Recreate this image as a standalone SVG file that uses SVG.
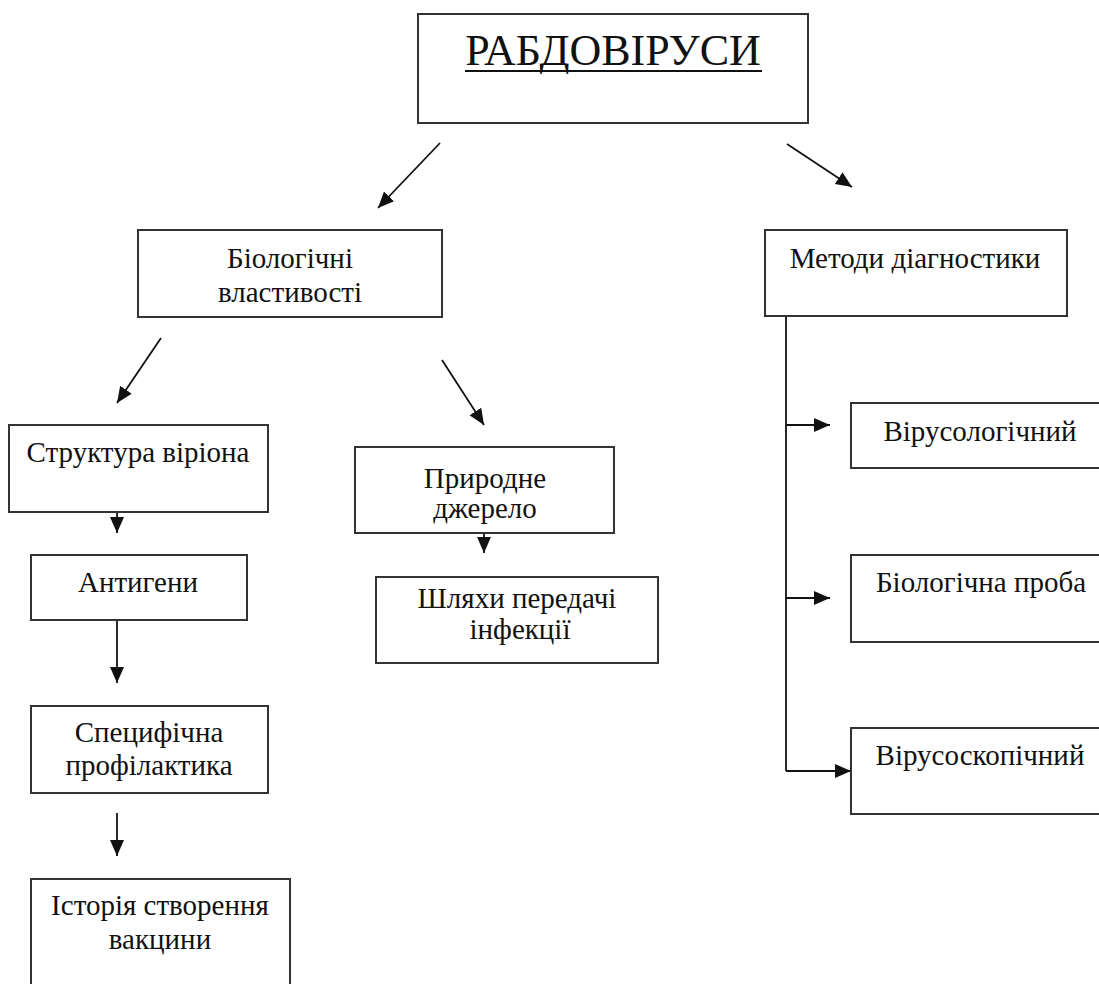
<svg xmlns="http://www.w3.org/2000/svg" width="1099" height="984" viewBox="0 0 1099 984">
<style>
.box{fill:#fff;stroke:#333;stroke-width:2}
.t{font-family:"Liberation Serif","Times New Roman",serif;font-size:29px;fill:#111;text-anchor:middle}
.title{font-family:"Liberation Serif","Times New Roman",serif;font-size:44px;fill:#111;text-anchor:middle}
.c{stroke:#111;stroke-width:1.8;fill:none;marker-end:url(#ah)}
.p{stroke:#111;stroke-width:1.8;fill:none}
</style>
<defs>
<marker id="ah" markerUnits="userSpaceOnUse" markerWidth="17" markerHeight="15" refX="16" refY="7" orient="auto">
<path d="M0,0 L16,7 L0,14 z" fill="#111"/>
</marker>
</defs>
<rect width="1099" height="984" fill="#fff"/>
<g id="connectors">
<line class="c" x1="440" y1="143" x2="378" y2="208"/>
<line class="c" x1="787" y1="144" x2="852" y2="187"/>
<line class="c" x1="161" y1="338" x2="117" y2="403"/>
<line class="c" x1="442" y1="360" x2="484" y2="425"/>
<line class="c" x1="117" y1="512" x2="117" y2="533"/>
<line class="c" x1="484" y1="533" x2="484" y2="553"/>
<line class="c" x1="117" y1="620" x2="117" y2="683"/>
<line class="c" x1="117" y1="813" x2="117" y2="856"/>
<line class="p" x1="786" y1="316" x2="786" y2="771"/>
<line class="c" x1="786" y1="425" x2="830" y2="425"/>
<line class="c" x1="786" y1="598" x2="830" y2="598"/>
<line class="c" x1="786" y1="771" x2="851" y2="771"/>
</g>
<g id="n-root">
<rect class="box" x="418" y="14" width="390" height="109"/>
<text class="title" x="613" y="65">РАБДОВІРУСИ</text>
<line x1="465" y1="71" x2="762" y2="71" stroke="#111" stroke-width="2"/>
</g>
<g id="n-bio">
<rect class="box" x="138" y="230" width="304" height="87"/>
<text class="t" x="290" y="268">Біологічні</text>
<text class="t" x="290" y="302">властивості</text>
</g>
<g id="n-methods">
<rect class="box" x="765" y="230" width="302" height="86"/>
<text class="t" x="915" y="268">Методи діагностики</text>
</g>
<g id="n-structure">
<rect class="box" x="9" y="425" width="259" height="87"/>
<text class="t" x="138" y="462">Структура віріона</text>
</g>
<g id="n-source">
<rect class="box" x="355" y="447" width="259" height="86"/>
<text class="t" x="485" y="488">Природне</text>
<text class="t" x="485" y="518">джерело</text>
</g>
<g id="n-routes">
<rect class="box" x="376" y="577" width="282" height="86"/>
<text class="t" x="517" y="608">Шляхи передачі</text>
<text class="t" x="520" y="639">інфекції</text>
</g>
<g id="n-antigens">
<rect class="box" x="31" y="555" width="216" height="65"/>
<text class="t" x="138" y="592">Антигени</text>
</g>
<g id="n-prophylaxis">
<rect class="box" x="31" y="706" width="237" height="87"/>
<text class="t" x="149" y="742">Специфічна</text>
<text class="t" x="149" y="775">профілактика</text>
</g>
<g id="n-history">
<rect class="box" x="31" y="879" width="259" height="130"/>
<text class="t" x="160" y="915">Історія створення</text>
<text class="t" x="160" y="949">вакцини</text>
</g>
<g id="n-virological">
<rect class="box" x="851" y="403" width="260" height="65"/>
<text class="t" x="980" y="441">Вірусологічний</text>
</g>
<g id="n-bioassay">
<rect class="box" x="851" y="555" width="260" height="87"/>
<text class="t" x="981" y="592">Біологічна проба</text>
</g>
<g id="n-viroscopic">
<rect class="box" x="851" y="728" width="260" height="86"/>
<text class="t" x="980" y="765">Вірусоскопічний</text>
</g>
</svg>
